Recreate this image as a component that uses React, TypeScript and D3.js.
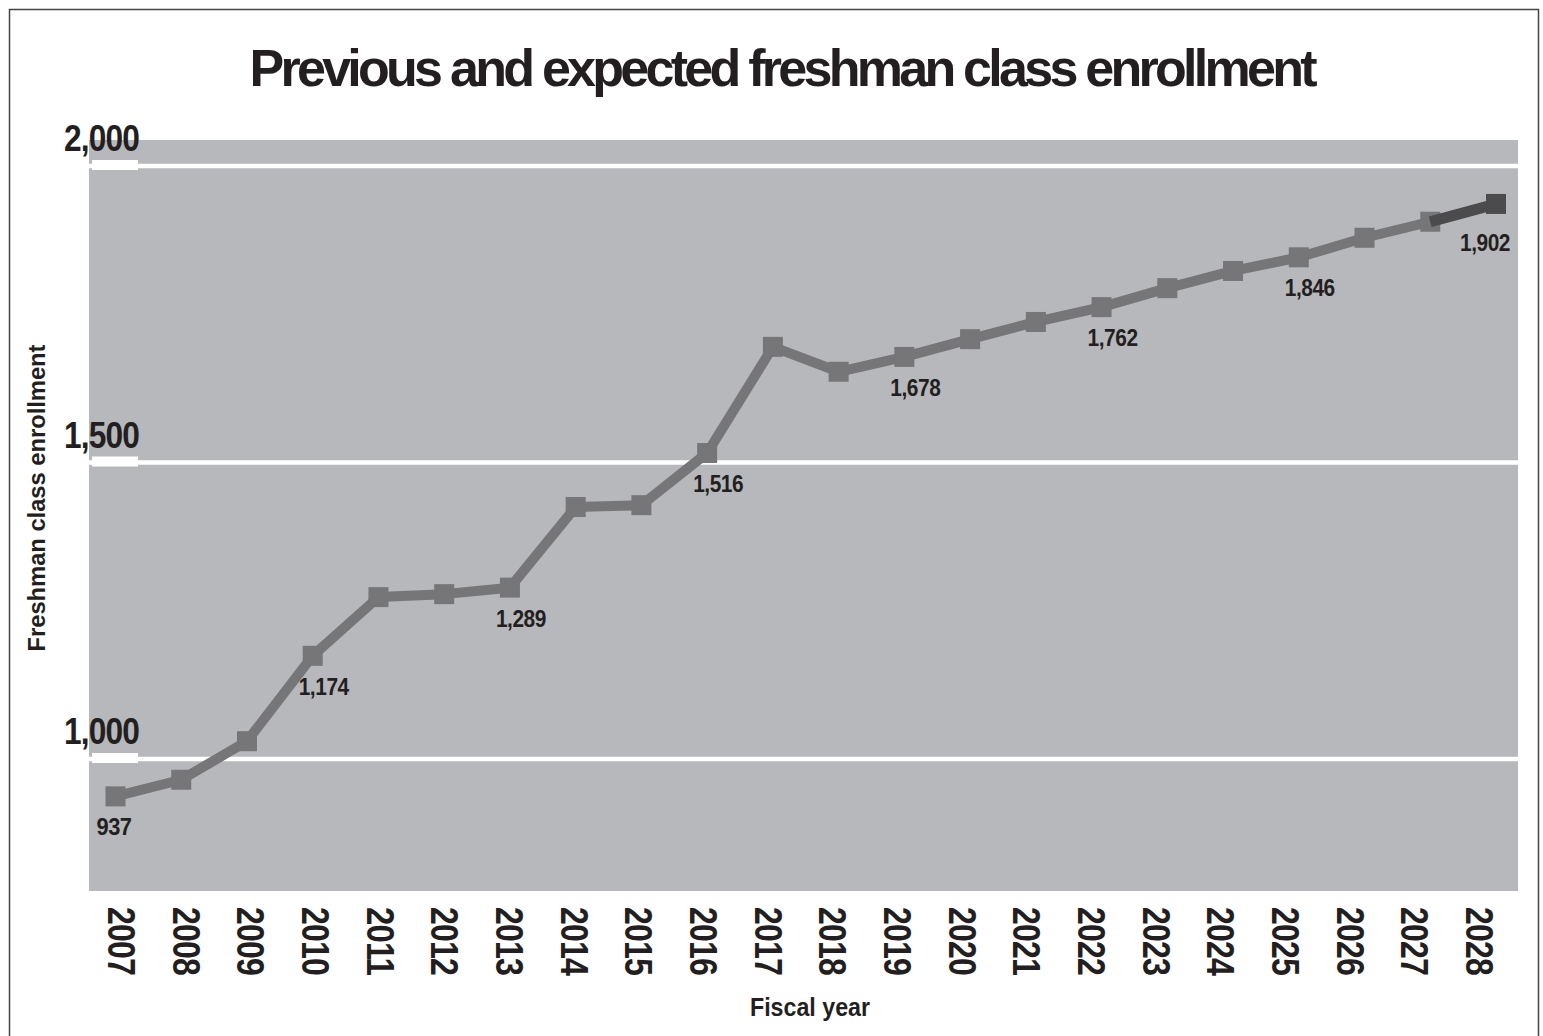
import React from 'react';
import * as d3 from 'd3';

// Fiscal years and enrollment
const years = [
  2007, 2008, 2009, 2010, 2011, 2012, 2013, 2014, 2015, 2016, 2017,
  2018, 2019, 2020, 2021, 2022, 2023, 2024, 2025, 2026, 2027, 2028,
];
const enrollment = [
  937, 965, 1030, 1174, 1273, 1278, 1289, 1425, 1428, 1516, 1695,
  1653, 1678, 1708, 1737, 1762, 1794, 1823, 1846, 1879, 1906, 1936,
];
// printed value labels
const labelYears = [2007, 2010, 2013, 2016, 2019, 2022, 2025, 2028];
const labelTexts = ['937', '1,174', '1,289', '1,516', '1,678', '1,762', '1,846', '1,902'];
const yTicks = [1000, 1500, 2000];

const W = 1543;
const H = 1036;
const plot = { left: 89, right: 1518, top: 140, bottom: 891 };

const FONT = '"Liberation Sans", Arial, Helvetica, sans-serif';
const BG = '#b7b8bb';
const LINE = '#767679';
const DARK = '#4b4b4d';
const INK = '#231f20';

export default function App() {
  const x = d3.scalePoint<number>().domain(years).range([115.5, 1496]);
  const xLabel = d3.scalePoint<number>().domain(years).range([121, 1479]);
  const y = d3.scaleLinear().domain([1000, 2000]).range([759, 166]);

  const pts = years.map((yr, i) => ({ yr, v: enrollment[i] }));
  const line = d3.line<{ yr: number; v: number }>()
    .x(d => x(d.yr) as number)
    .y(d => y(d.v));

  const projectedTail = pts.slice(-2);
  const fmt = d3.format(',');

  return (
    <svg width={W} height={H} style={{ position: 'absolute', left: 0, top: 0, background: '#fff' }}>
      {/* outer frame */}
      <rect x={9.5} y={9.5} width={1529} height={1040} fill="none" stroke="#444" strokeWidth={1.5} />

      {/* title */}
      <text
        x={W / 2 + 12}
        y={86}
        textAnchor="middle"
        fontFamily={FONT}
        fontWeight="bold"
        fontSize={52}
        fill={INK}
        textLength={1068}
        lengthAdjust="spacing"
      >
        Previous and expected freshman class enrollment
      </text>

      {/* plot background */}
      <rect x={plot.left} y={plot.top} width={plot.right - plot.left} height={plot.bottom - plot.top} fill={BG} />

      {/* gridlines + y ticks */}
      {yTicks.map(t => (
        <g key={t}>
          <line x1={plot.left} x2={plot.right} y1={y(t)} y2={y(t)} stroke="#fff" strokeWidth={4.5} />
          <rect x={92} y={y(t) - 6} width={46} height={10} fill="#fff" />
          <text
            x={139}
            y={y(t) - 15}
            textAnchor="end"
            fontFamily={FONT}
            fontWeight="bold"
            fontSize={37}
            letterSpacing={-1}
            fill={INK}
            textLength={75}
            lengthAdjust="spacingAndGlyphs"
          >
            {fmt(t)}
          </text>
        </g>
      ))}

      {/* line */}
      <path d={line(pts) ?? ''} fill="none" stroke={LINE} strokeWidth={10} strokeLinejoin="round" />
      {pts.slice(0, -1).map(d => (
        <rect key={d.yr} x={(x(d.yr) as number) - 10} y={y(d.v) - 10} width={20} height={20} fill={LINE} />
      ))}
      <path d={line(projectedTail) ?? ''} fill="none" stroke={DARK} strokeWidth={11} />
      {projectedTail.slice(1).map(d => (
        <rect key={d.yr} x={(x(d.yr) as number) - 10} y={y(d.v) - 10} width={20} height={20} fill={DARK} />
      ))}

      {/* value labels */}
      {labelYears.map((yr, i) => {
        const v = enrollment[years.indexOf(yr)];
        const last = i === labelYears.length - 1;
        const w = labelTexts[i].length > 3 ? 50 : 35;
        return (
          <text
            key={yr}
            x={(x(yr) as number) + (last ? 14 : i === 0 ? 16 : 36)}
            y={y(v) + (last ? 47 : 39)}
            textAnchor="end"
            fontFamily={FONT}
            fontWeight="bold"
            fontSize={23}
            letterSpacing={-0.5}
            fill={INK}
            textLength={w}
            lengthAdjust="spacingAndGlyphs"
          >
            {labelTexts[i]}
          </text>
        );
      })}

      {/* x tick labels */}
      {years.map(yr => (
        <text
          key={yr}
          transform={`translate(${xLabel(yr)},907) rotate(90)`}
          dominantBaseline="central"
          fontFamily={FONT}
          fontWeight="bold"
          fontSize={38}
          letterSpacing={-1}
          fill={INK}
          textLength={68}
          lengthAdjust="spacingAndGlyphs"
        >
          {yr}
        </text>
      ))}

      {/* axis titles */}
      <text
        x={810}
        y={1016}
        textAnchor="middle"
        fontFamily={FONT}
        fontWeight="bold"
        fontSize={25}
        fill={INK}
        textLength={120}
        lengthAdjust="spacingAndGlyphs"
      >
        Fiscal year
      </text>
      <text
        transform="translate(45,498) rotate(-90)"
        textAnchor="middle"
        fontFamily={FONT}
        fontWeight="bold"
        fontSize={24}
        fill={INK}
        textLength={307}
        lengthAdjust="spacingAndGlyphs"
      >
        Freshman class enrollment
      </text>
    </svg>
  );
}
